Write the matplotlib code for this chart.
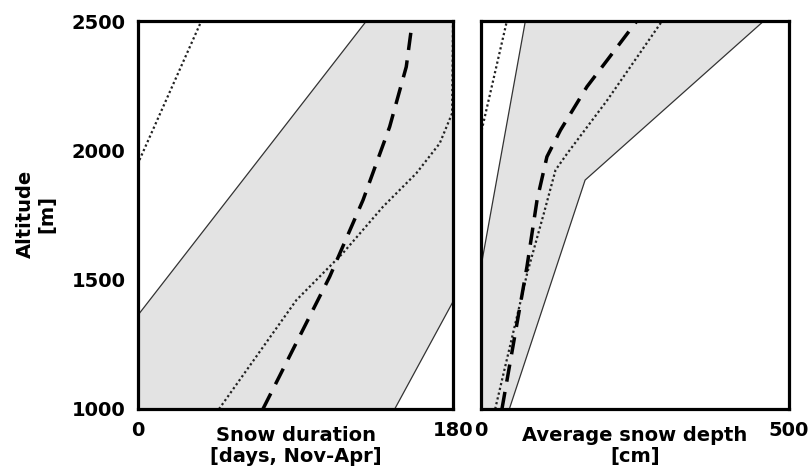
import numpy as np
import matplotlib.pyplot as plt

# ----------------------------
# Data (altitude in m)
# ----------------------------
# Left panel: snow duration [days, Nov-Apr]
dur_band_lo_alt = [1000, 1363, 2500]
dur_band_lo = [0, 0, 130.5]
dur_band_hi_alt = [1000, 1415, 2500]
dur_band_hi = [146.7, 180, 180]
dur_mean_alt = [1000, 1511, 1808, 2091, 2323, 2500]
dur_mean = [71.4, 109.5, 128.6, 143.8, 153.3, 156.8]
dur_dot_hi_alt = [1000, 1421, 1602, 1782, 1911, 2027, 2143, 2500]
dur_dot_hi = [46.3, 90.5, 117, 140, 159, 172.4, 179.5, 180]
dur_dot_lo_alt = [1000, 1950, 2500]
dur_dot_lo = [0, 0, 36.2]

# Right panel: average snow depth [cm]
dep_band_lo_alt = [1000, 1550, 2500]
dep_band_lo = [0, 0, 72]
dep_band_hi_alt = [1000, 1885, 2500]
dep_band_hi = [46, 169, 459]
dep_mean_alt = [1000, 1550, 1808, 1975, 2078, 2246, 2349, 2500]
dep_mean = [34, 74.6, 91, 107, 129, 172, 205, 253]
dep_dot_hi_alt = [1000, 1525, 1756, 1924, 1988, 2194, 2500]
dep_dot_hi = [23, 75, 102, 121, 140, 205, 294]
dep_dot_lo_alt = [1000, 2066, 2500]
dep_dot_lo = [0, 0, 42]

alt_ticks = [1000, 1500, 2000, 2500]

FONT = dict(family="DejaVu Sans", weight="bold", size=14)


def draw_panel(ax, lo_x, lo_y, hi_x, hi_y, mean_x, mean_y,
               dhi_x, dhi_y, dlo_x, dlo_y, xmax, xlabel):
    # shaded band
    px = np.concatenate([lo_x, hi_x[::-1]])
    py = np.concatenate([lo_y, hi_y[::-1]])
    ax.fill(px, py, color="#e3e3e3", lw=0, zorder=1)
    ax.plot(lo_x, lo_y, color="#333333", lw=0.9, zorder=2)
    ax.plot(hi_x, hi_y, color="#333333", lw=0.9, zorder=2)
    # dotted and dashed curves
    ax.plot(dhi_x, dhi_y, color="#222222", lw=1.6, ls=(0, (1, 1.2)), zorder=3)
    ax.plot(dlo_x, dlo_y, color="#222222", lw=1.6, ls=(0, (1, 1.2)), zorder=3)
    ax.plot(mean_x, mean_y, color="black", lw=2.5, ls=(0, (5, 3)), zorder=4)

    ax.set_xlim(0, xmax)
    ax.set_ylim(1000, 2500)
    ax.set_xticks([0, xmax])
    ax.set_xticklabels(["0", str(xmax)], fontdict=FONT)
    ax.tick_params(length=0, pad=9)
    for s in ax.spines.values():
        s.set_linewidth(2.3)
        s.set_zorder(5)
    ax.text(0.5, -0.045, xlabel, transform=ax.transAxes, ha="center",
            va="top", linespacing=1.1, **FONT)


fig = plt.figure(figsize=(8.12, 4.76), dpi=100)
ax1 = fig.add_axes([138 / 812, 67 / 476, 315 / 812, 388 / 476])
ax2 = fig.add_axes([481 / 812, 67 / 476, 308 / 812, 388 / 476])

draw_panel(ax1, np.array(dur_band_lo), np.array(dur_band_lo_alt),
           np.array(dur_band_hi), np.array(dur_band_hi_alt),
           dur_mean, dur_mean_alt, dur_dot_hi, dur_dot_hi_alt,
           dur_dot_lo, dur_dot_lo_alt, 180,
           "Snow duration\n[days, Nov-Apr]")
draw_panel(ax2, np.array(dep_band_lo), np.array(dep_band_lo_alt),
           np.array(dep_band_hi), np.array(dep_band_hi_alt),
           dep_mean, dep_mean_alt, dep_dot_hi, dep_dot_hi_alt,
           dep_dot_lo, dep_dot_lo_alt, 500,
           "Average snow depth\n[cm]")

ax1.set_yticks(alt_ticks)
ax1.set_yticklabels([str(a) for a in alt_ticks], fontdict=FONT)
ax2.set_yticks([])

fig.text(36 / 812, 1 - 214 / 476, "Altitude\n[m]", rotation=90,
         ha="center", va="center", multialignment="center", **FONT)

fig.savefig("out.png", dpi=100)
